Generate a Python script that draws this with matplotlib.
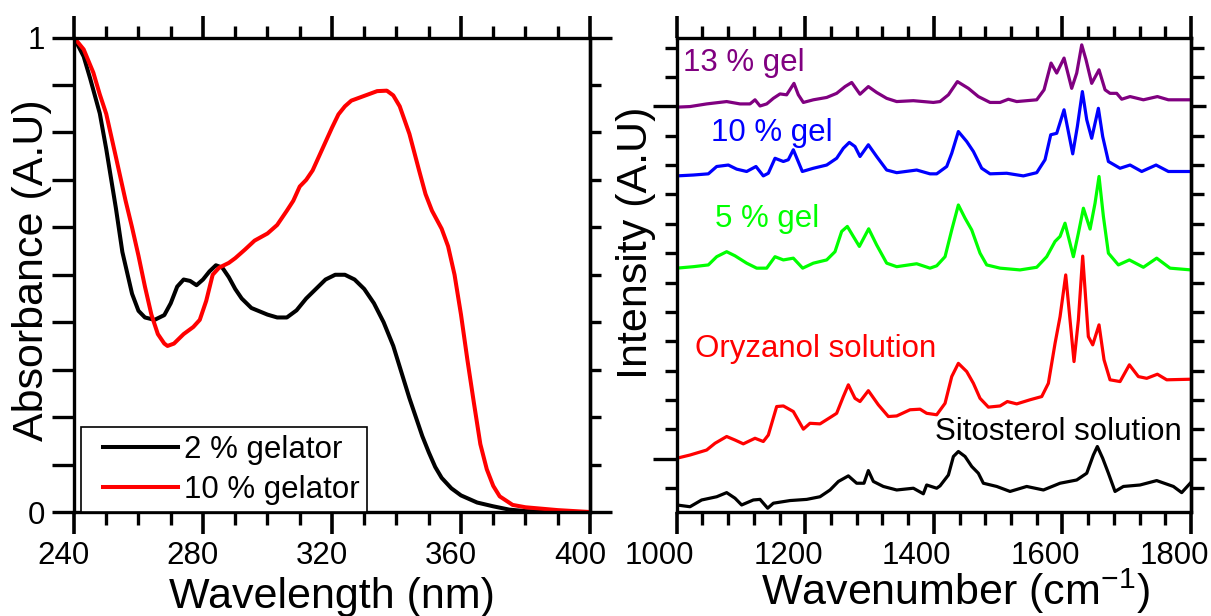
import matplotlib
matplotlib.use('Agg')
import matplotlib.pyplot as plt
import matplotlib.transforms as mtransforms
from matplotlib.lines import Line2D
from matplotlib.legend_handler import HandlerLine2D

plt.rcParams['font.family'] = ['Liberation Sans', 'DejaVu Sans']
plt.rcParams['mathtext.fontset'] = 'custom'
plt.rcParams['mathtext.rm'] = 'Liberation Sans'
plt.rcParams['mathtext.it'] = 'Liberation Sans:italic'

# ---- UV-vis absorbance (left) ----
wl_2 = [240, 243, 245, 248, 250, 253, 255, 258, 260, 262, 265, 268, 270, 272, 274, 276, 278,
        280, 282, 284, 286, 288, 290, 292, 295, 300, 303, 306, 309, 312, 315, 318, 321, 324,
        327, 330, 333, 336, 339, 342, 344, 346, 348, 350, 352, 354, 357, 360, 365, 370, 375,
        380, 390, 400]
abs_2 = [1.0, 0.96, 0.914, 0.84, 0.765, 0.64, 0.548, 0.46, 0.424, 0.41, 0.405, 0.415, 0.44,
         0.475, 0.49, 0.487, 0.478, 0.49, 0.507, 0.52, 0.515, 0.495, 0.47, 0.45, 0.43, 0.416,
         0.41, 0.41, 0.425, 0.45, 0.47, 0.49, 0.5, 0.5, 0.49, 0.47, 0.44, 0.4, 0.35, 0.284,
         0.24, 0.2, 0.16, 0.126, 0.095, 0.072, 0.05, 0.035, 0.02, 0.012, 0.005, 0.002, 0.0, 0.0]

wl_10 = [240, 243, 246, 248, 250, 253, 256, 258, 260, 262, 264, 266, 268, 269, 271, 274, 277,
         279, 281, 283, 285, 288, 290, 293, 296, 300, 303, 306, 308, 310, 312, 314, 316, 318,
         320, 322, 324, 326, 330, 334, 337, 339, 341, 344, 347, 349, 351, 354, 356, 358, 360,
         362, 364, 366, 368, 370, 372, 376, 380, 390, 400]
abs_10 = [1.0, 0.975, 0.926, 0.88, 0.839, 0.748, 0.656, 0.6, 0.54, 0.475, 0.416, 0.375, 0.355,
          0.35, 0.355, 0.375, 0.39, 0.405, 0.445, 0.5, 0.515, 0.525, 0.535, 0.553, 0.572,
          0.587, 0.605, 0.635, 0.656, 0.686, 0.7, 0.72, 0.75, 0.78, 0.81, 0.838, 0.855, 0.867,
          0.877, 0.887, 0.888, 0.878, 0.855, 0.797, 0.72, 0.67, 0.635, 0.597, 0.56, 0.5, 0.416,
          0.32, 0.23, 0.143, 0.09, 0.055, 0.033, 0.015, 0.01, 0.004, 0.0]

# ---- Raman spectra (right), offsets in tick units ----
sito_wn = [1000, 1020.7, 1038.8, 1062.2, 1077.7, 1090.7, 1101, 1119.2, 1129.6, 1141.5, 1150.3,
           1176.2, 1202.2, 1222.9, 1238.5, 1251.5, 1267, 1279.9, 1291.3, 1298.1, 1305.9,
           1321.4, 1342.2, 1368.1, 1383.6, 1388.8, 1404.4, 1409.6, 1422.6, 1430.4, 1438.1,
           1448.5, 1458.9, 1469.2, 1477, 1497.8, 1518.5, 1544.4, 1570.4, 1596.3, 1622.2,
           1637.8, 1648.1, 1654.3, 1662.6, 1671.5, 1681.8, 1694.8, 1720.7, 1746.6, 1772.6,
           1785.5, 1800]
sito_i = [-0.57, -0.63, -0.4, -0.29, -0.15, -0.34, -0.57, -0.4, -0.38, -0.68, -0.51, -0.42,
          -0.38, -0.29, -0.06, 0.23, 0.42, 0.17, 0.17, 0.6, 0.23, 0.06, -0.06, 0.0, -0.19, 0.11,
          0.0, 0.08, 0.45, 1.08, 1.25, 1.08, 0.74, 0.51, 0.17, 0.06, -0.11, 0.06, -0.06, 0.17,
          0.28, 0.51, 1.13, 1.42, 1.02, 0.51, -0.11, 0.06, 0.11, 0.26, 0.06, -0.15, 0.2]

ory_wn = [1000, 1020.7, 1046.6, 1059.6, 1077.7, 1090.7, 1103.6, 1121.8, 1134.7, 1142.5, 1155.5,
          1165.9, 1181.4, 1197, 1207.3, 1222.9, 1241, 1248.8, 1259.2, 1267, 1277.3, 1285.1,
          1298.1, 1313.6, 1329.2, 1342.2, 1362.9, 1378.5, 1388.8, 1404.4, 1417.4, 1427.8,
          1438.1, 1451.1, 1461.5, 1471.8, 1484.8, 1503, 1514.3, 1528.9, 1549.6, 1567.8, 1578.1,
          1588.5, 1596.3, 1605.1, 1611.8, 1618, 1624.8, 1631.5, 1640.3, 1647.1, 1656.9, 1664.7,
          1674, 1689.6, 1704.1, 1718.1, 1731.1, 1747.7, 1762.2, 1800]
ory_i = [1.02, 1.13, 1.3, 1.53, 1.76, 1.64, 1.51, 1.7, 1.59, 1.81, 2.78, 2.8, 2.61, 2.01, 2.21,
         2.19, 2.44, 2.55, 3.12, 3.52, 3.06, 2.95, 3.32, 2.84, 2.44, 2.46, 2.67, 2.69, 2.55, 2.5,
         2.89, 3.8, 4.25, 3.97, 3.57, 3.06, 2.76, 2.8, 2.95, 2.87, 3.01, 3.12, 3.57, 4.93, 5.84,
         7.26, 5.73, 4.31, 5.73, 7.9, 5.16, 4.88, 5.56, 4.37, 3.69, 3.63, 4.2, 3.8, 3.74, 3.88,
         3.69, 3.71]

gel5_wn = [1000, 1025.9, 1049.2, 1062.2, 1077.7, 1090.7, 1108.8, 1124.4, 1140, 1152.9, 1165.9,
           1181.4, 1195.9, 1212.5, 1233.3, 1246.2, 1256.6, 1265.4, 1274.7, 1284.1, 1298.6,
           1311, 1326.6, 1342.2, 1373.3, 1394, 1404.4, 1417.4, 1427.8, 1438.1, 1448.5, 1458.9,
           1471.8, 1482.2, 1503, 1534, 1560, 1575.5, 1588.5, 1596.3, 1604, 1617, 1624.8, 1632.6,
           1643, 1650.7, 1656.9, 1663.7, 1671.5, 1687, 1704.1, 1725.9, 1746.6, 1767.4, 1800]
gel5_i = [7.49, 7.54, 7.6, 7.88, 8.05, 7.91, 7.66, 7.49, 7.49, 7.88, 7.77, 7.83, 7.49, 7.66,
          7.77, 8.05, 8.74, 8.91, 8.57, 8.23, 8.83, 8.28, 7.66, 7.54, 7.64, 7.49, 7.57, 7.88,
          8.79, 9.64, 9.19, 8.79, 8.0, 7.6, 7.49, 7.43, 7.52, 7.88, 8.4, 8.57, 9.02, 7.88, 8.68,
          9.53, 8.82, 9.7, 10.61, 9.25, 8.0, 7.6, 7.77, 7.52, 7.83, 7.49, 7.43]

gel10_wn = [1000, 1025.9, 1049.2, 1062.2, 1080.3, 1093.3, 1108.8, 1123.3, 1134.7, 1142.5,
            1152.9, 1165.9, 1173.6, 1181.4, 1195.4, 1212.5, 1233.3, 1248.8, 1259.2, 1268.5,
            1277.3, 1285.1, 1298.1, 1311, 1326.6, 1342.2, 1373.3, 1394, 1404.4, 1420, 1427.8,
            1438.1, 1451.1, 1461.5, 1474.4, 1487.4, 1513.3, 1539.2, 1560, 1572.9, 1581.8,
            1591.1, 1602.5, 1616, 1623.2, 1631, 1637.8, 1645.5, 1655.9, 1662.6, 1671.5, 1689.6,
            1705.2, 1723.3, 1745.6, 1764.8, 1800]
gel10_i = [10.63, 10.66, 10.7, 10.95, 11.0, 10.86, 10.78, 10.95, 10.63, 10.72, 11.23, 11.12,
           11.18, 11.52, 10.78, 10.89, 11.0, 11.23, 11.57, 11.77, 11.63, 11.29, 11.69, 11.29,
           10.83, 10.74, 10.83, 10.7, 10.7, 10.95, 11.4, 12.14, 11.8, 11.46, 10.89, 10.7, 10.72,
           10.63, 10.74, 11.18, 12.03, 12.08, 12.88, 11.38, 12.31, 13.5, 12.54, 11.91, 12.93,
           11.97, 11.12, 10.89, 11.0, 10.78, 11.0, 10.78, 10.78]

gel13_wn = [1000, 1020.7, 1046.6, 1077.7, 1098.5, 1114, 1121.8, 1129.6, 1140, 1150.3, 1160.7,
            1171, 1182.4, 1189.2, 1197, 1212.5, 1233.3, 1248.8, 1261.8, 1272.2, 1285.1, 1298.1,
            1311, 1326.6, 1342.2, 1368.1, 1399.2, 1409.6, 1422.6, 1436.6, 1453.7, 1469.2,
            1487.4, 1503, 1515.9, 1528.9, 1560, 1571.4, 1582.3, 1591.1, 1602.5, 1614.4, 1622.2,
            1630, 1636.7, 1645.5, 1656.9, 1666.3, 1674, 1684.4, 1692.2, 1705.2, 1725.9, 1747.7,
            1764.8, 1800]
gel13_i = [12.97, 12.99, 13.08, 13.16, 13.08, 13.08, 13.22, 13.01, 13.08, 13.27, 13.42, 13.39,
           13.78, 13.39, 13.13, 13.22, 13.3, 13.44, 13.67, 13.81, 13.41, 13.67, 13.47, 13.27,
           13.16, 13.19, 13.13, 13.16, 13.39, 13.84, 13.61, 13.33, 13.13, 13.13, 13.24, 13.16,
           13.22, 13.56, 14.47, 14.13, 14.64, 13.61, 14.13, 15.09, 14.58, 13.78, 14.24, 13.56,
           13.44, 13.44, 13.24, 13.33, 13.22, 13.33, 13.22, 13.22]

fig = plt.figure(figsize=(12.11, 6.16), dpi=100)
ax1 = fig.add_axes([0.0611, 0.1688, 0.4261, 0.7703])
ax2 = fig.add_axes([0.5588, 0.1688, 0.4247, 0.7703])

FS = 22.5
LFS = 31

# left panel
ax1.plot(wl_2, abs_2, color='black', lw=2.9, label='2 % gelator')
ax1.plot(wl_10, abs_10, color='#ff0000', lw=2.9, label='10 % gelator')
ax1.set_xlim(240, 400)
ax1.set_ylim(0, 1)
ax1.set_xticks([240, 280, 320, 360, 400])
ax1.set_xticks(range(250, 400, 10), minor=True)
ax1.set_yticks([0, 1])
ax1.set_yticklabels(['0', '1'])
ax1.set_yticks([i / 10 for i in range(1, 10)], minor=True)
ax1.tick_params(axis='x', which='major', direction='out', length=16, width=2.6,
                top=True, labelsize=FS, pad=5)
ax1.tick_params(axis='x', which='minor', direction='out', length=9, width=2.4, top=True)
ax1.tick_params(axis='y', which='both', direction='out', length=16, width=2.4,
                left=True, right=False, labelsize=FS, pad=5)
sec1 = ax1.secondary_yaxis('right')
sec1.set_yticks([0, 1])
sec1.set_yticks([i / 10 for i in range(1, 10)], minor=True)
sec1.tick_params(axis='y', which='major', direction='out', length=16, width=2.4, labelright=False)
sec1.tick_params(axis='y', which='minor', direction='out', length=8, width=2.4)
sec1.spines['right'].set_linewidth(2.4)
for s in ax1.spines.values():
    s.set_linewidth(2.4)
ax1.set_xlabel('Wavelength (nm)', fontsize=LFS, labelpad=4.5)
ax1.set_ylabel('Absorbance (A.U)', fontsize=LFS)
ax1.yaxis.label.set_va('center')
ax1.yaxis.set_label_coords(-0.081, 0.51)

leg = ax1.legend(loc='lower left', bbox_to_anchor=(0.0136, 0.0), borderaxespad=0,
                 fontsize=FS, handlelength=2.88, handletextpad=0.19, borderpad=0.23,
                 labelspacing=0.33, fancybox=False, framealpha=1, edgecolor='black',
                 handler_map={Line2D: HandlerLine2D(xpad=0.48)})
leg.get_frame().set_linewidth(1.2)

# right panel
ax2.plot(sito_wn, sito_i, color='black', lw=2.3)
ax2.plot(ory_wn, ory_i, color='#ff0000', lw=2.3)
ax2.plot(gel5_wn, gel5_i, color='#00ff00', lw=2.3)
ax2.plot(gel10_wn, gel10_i, color='#0000ff', lw=2.3)
ax2.plot(gel13_wn, gel13_i, color='#800080', lw=2.3)
ax2.set_xlim(1000, 1800)
ax2.set_ylim(-0.81, 15.34)
ax2.set_xticks([1000, 1200, 1400, 1600, 1800])
ax2.set_xticks([x for x in range(1040, 1800, 40) if x % 200 != 0], minor=True)
ax2.set_yticks([1, 13])
ax2.set_yticks([y for y in range(0, 16) if y not in (1, 13)], minor=True)
ax2.tick_params(axis='x', which='major', direction='out', length=16, width=2.6,
                top=True, labelsize=FS, pad=5)
ax2.tick_params(axis='x', which='minor', direction='out', length=9, width=2.4, top=True)
ax2.tick_params(axis='y', which='major', direction='out', length=17, width=2.4,
                left=True, right=False, labelleft=False)
ax2.tick_params(axis='y', which='minor', direction='out', length=9, width=2.4, left=True, right=False)
sec2 = ax2.secondary_yaxis('right')
sec2.set_yticks([1, 13])
sec2.set_yticks([y for y in range(0, 16) if y not in (1, 13)], minor=True)
sec2.tick_params(axis='y', which='major', direction='out', length=11, width=2.4, labelright=False)
sec2.tick_params(axis='y', which='minor', direction='out', length=9, width=2.4)
sec2.spines['right'].set_linewidth(2.4)
for s in ax2.spines.values():
    s.set_linewidth(2.4)
ax2.set_xlabel(r'Wavenumber (cm$^{\mathrm{-1}}$)', fontsize=LFS, labelpad=-3.5)
ax2.xaxis.label.set_x(0.541)
ax2.set_ylabel('Intensity (A.U)', fontsize=LFS)
ax2.yaxis.label.set_va('center')
ax2.yaxis.set_label_coords(-0.079, 0.567)

ax2.text(1010, 14.2, '13 % gel', color='#800080', fontsize=FS, va='baseline')
ax2.text(1054, 11.83, '10 % gel', color='#0000ff', fontsize=FS, va='baseline')
ax2.text(1059.6, 8.9, '5 % gel', color='#00ff00', fontsize=FS, va='baseline')
ax2.text(1028.5, 4.46, 'Oryzanol solution', color='#ff0000', fontsize=FS, va='baseline')
ax2.text(1401.7, 1.64, 'Sitosterol solution', color='black', fontsize=FS, va='baseline')

# Origin-style tick labels sit a little left of their ticks
for ax, dx in ((ax1, -10), (ax2, -17)):
    off = mtransforms.ScaledTranslation(dx / 100, 0, fig.dpi_scale_trans)
    for lab in ax.get_xticklabels():
        lab.set_transform(lab.get_transform() + off)

fig.savefig('out.png', dpi=100)
